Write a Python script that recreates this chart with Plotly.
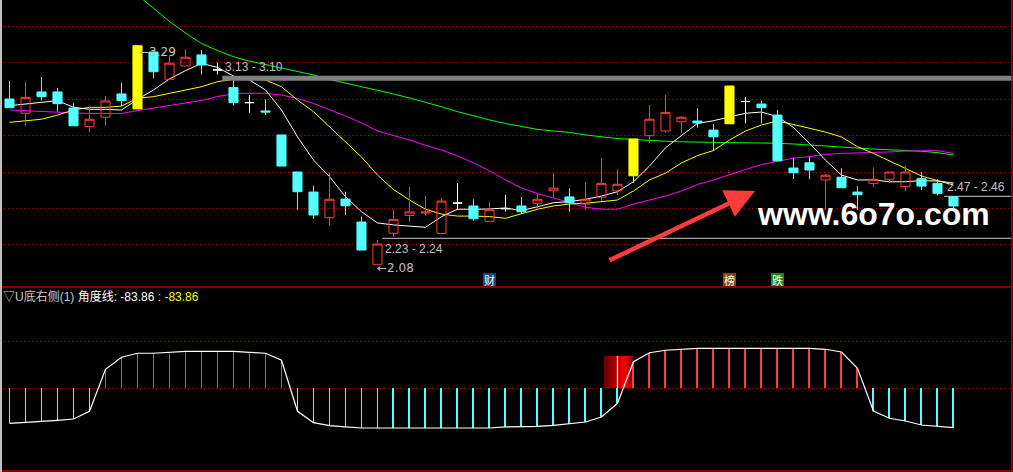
import plotly.graph_objects as go

# ---------------- data ----------------
N = 60
idx = list(range(N))

opens = [2.995, 2.916, 3.034, 3.034, 2.945, 2.842, 2.894, 3.023, 2.940, 3.255,
         3.104, 3.178, 3.239, 3.156, 3.058, 2.975, 2.929, 2.796, 2.591, 2.480,
         2.338, 2.441, 2.314, 2.080, 2.252, 2.351, 2.364, 2.251, 2.419, 2.403,
         2.318, 2.388, 2.403, 2.418, 2.487, 2.453, 2.414, 2.451, 2.487, 2.570,
         2.792, 2.818, 2.869, 2.873, 2.823, 2.858, 2.981, 2.967, 2.906, 2.613,
         2.642, 2.547, 2.562, 2.480, 2.528, 2.551, 2.510, 2.554, 2.528, 2.454]
highs = [3.095, 3.089, 3.117, 3.056, 2.971, 2.949, 3.012, 3.085, 3.290, 3.255,
         3.233, 3.272, 3.266, 3.196, 3.096, 3.017, 2.993, 2.796, 2.591, 2.515,
         2.587, 2.482, 2.344, 2.215, 2.386, 2.510, 2.458, 2.447, 2.530, 2.440,
         2.425, 2.464, 2.453, 2.473, 2.584, 2.501, 2.534, 2.668, 2.606, 2.774,
         2.962, 3.017, 2.901, 2.944, 2.857, 3.067, 3.006, 2.986, 2.934, 2.671,
         2.676, 2.580, 2.611, 2.513, 2.617, 2.591, 2.628, 2.591, 2.551, 2.454]
lows = [2.947, 2.847, 2.986, 2.925, 2.847, 2.811, 2.847, 2.955, 2.940, 3.110,
        3.104, 3.178, 3.131, 3.131, 2.958, 2.919, 2.906, 2.624, 2.381, 2.331,
        2.294, 2.353, 2.159, 2.080, 2.233, 2.316, 2.350, 2.251, 2.383, 2.321,
        2.318, 2.371, 2.358, 2.390, 2.451, 2.371, 2.381, 2.432, 2.464, 2.532,
        2.750, 2.808, 2.808, 2.836, 2.707, 2.858, 2.860, 2.860, 2.653, 2.552,
        2.551, 2.381, 2.504, 2.381, 2.506, 2.532, 2.484, 2.491, 2.462, 2.377]
closes = [2.947, 3.004, 3.008, 2.969, 2.847, 2.883, 2.984, 2.986, 3.290, 3.146,
          3.193, 3.226, 3.183, 3.156, 2.975, 2.975, 2.923, 2.624, 2.482, 2.353,
          2.440, 2.404, 2.159, 2.192, 2.329, 2.370, 2.370, 2.430, 2.419, 2.332,
          2.382, 2.388, 2.371, 2.440, 2.502, 2.421, 2.440, 2.528, 2.523, 2.774,
          2.883, 2.921, 2.894, 2.862, 2.786, 3.067, 2.981, 2.947, 2.653, 2.587,
          2.602, 2.573, 2.504, 2.465, 2.551, 2.591, 2.591, 2.513, 2.473, 2.403]
kinds = ["down", "up", "down", "down", "down", "up", "up", "down", "limit", "down",
         "up", "up", "down", "doji", "down", "doji", "down", "down", "down", "down",
         "up", "down", "down", "up", "up", "up", "up", "up", "doji", "down",
         "up", "doji", "down", "up", "up", "down", "up", "up", "up", "limit",
         "up", "up", "up", "down", "down", "limit", "doji", "down", "down", "down",
         "down", "up", "down", "down", "up", "up", "up", "down", "down", "down"]

ma5 = [2.958, 2.966, 2.975, 2.986, 2.949, 2.938, 2.938, 2.934, 2.993, 3.045,
       3.106, 3.152, 3.192, 3.170, 3.122, 3.100, 3.045, 2.934, 2.786, 2.657,
       2.565, 2.454, 2.371, 2.309, 2.298, 2.292, 2.285, 2.344, 2.385, 2.385,
       2.386, 2.392, 2.377, 2.399, 2.421, 2.427, 2.440, 2.458, 2.482, 2.537,
       2.624, 2.725, 2.790, 2.860, 2.875, 2.897, 2.916, 2.923, 2.897, 2.837,
       2.750, 2.657, 2.574, 2.547, 2.547, 2.537, 2.537, 2.543, 2.541, 2.530]
ma10 = [2.866, 2.873, 2.883, 2.906, 2.934, 2.949, 2.949, 2.956, 2.999, 3.008,
        3.027, 3.045, 3.063, 3.091, 3.104, 3.106, 3.100, 3.063, 2.989, 2.925,
        2.840, 2.754, 2.674, 2.574, 2.494, 2.436, 2.385, 2.358, 2.347, 2.347,
        2.344, 2.335, 2.362, 2.385, 2.403, 2.414, 2.418, 2.427, 2.436, 2.486,
        2.547, 2.585, 2.641, 2.682, 2.710, 2.768, 2.818, 2.851, 2.873, 2.854,
        2.834, 2.812, 2.785, 2.731, 2.694, 2.652, 2.608, 2.569, 2.543, 2.519]
ma20 = [2.934, 2.929, 2.926, 2.920, 2.918, 2.915, 2.914, 2.915, 2.931, 2.945,
        2.959, 2.973, 2.987, 3.009, 3.023, 3.027, 3.027, 3.017, 2.998, 2.970,
        2.937, 2.901, 2.862, 2.818, 2.793, 2.768, 2.738, 2.713, 2.680, 2.641,
        2.597, 2.547, 2.502, 2.472, 2.447, 2.422, 2.396, 2.385, 2.385, 2.414,
        2.436, 2.458, 2.486, 2.522, 2.547, 2.577, 2.605, 2.632, 2.652, 2.668,
        2.676, 2.688, 2.694, 2.696, 2.698, 2.702, 2.707, 2.709, 2.709, 2.694]
ma60 = [None] * 8 + [
        3.571, 3.499,
        3.424, 3.360, 3.302, 3.263, 3.229, 3.205, 3.186, 3.167, 3.150, 3.128,
        3.103, 3.084, 3.065, 3.045, 3.023, 3.001, 2.978, 2.952, 2.925, 2.901,
        2.879, 2.859, 2.842, 2.827, 2.818, 2.810, 2.796, 2.785, 2.776, 2.771,
        2.765, 2.761, 2.758, 2.755, 2.755, 2.754, 2.754, 2.753, 2.750, 2.746,
        2.740, 2.735, 2.728, 2.722, 2.718, 2.714, 2.711, 2.706, 2.698, 2.685]

angle = [-74.5, -71.7, -70.2, -68.1, -65.3, -48.9, 40.4, 66.0, 74.5, 74.5,
         77.2, 78.7, 78.7, 78.7, 78.7, 76.6, 74.5, 59.6, -48.9, -73.2,
         -79.6, -82.3, -84.5, -84.5, -84.5, -84.5, -84.5, -84.5, -84.5, -84.5,
         -84.5, -82.3, -82.3, -80.9, -78.7, -75.3, -71.7, -61.1, -31.9, 56.6,
         75.7, 80.9, 83.0, 85.1, 85.1, 85.1, 85.1, 85.1, 85.1, 85.1,
         85.1, 83.0, 77.2, 42.6, -48.3, -63.8, -69.6, -78.1, -80.2, -83.86]

grid_levels = [3.399, 3.197, 2.995, 2.793, 2.591, 2.389, 2.190]
angle_levels = [0, 100]

level_prices = [3.110, 2.224, 2.456]
level_start = [13.3, 23.3, 58.4]
level_texts = ["3.13 - 3.10", "2.23 - 2.24", "2.47 - 2.46"]

high_idx, high_text = 8, "←3.29"
low_idx, low_text = 23, "←2.08"

icon_idx = [30, 45, 48]
icon_text = ["财", "榜", "跌"]
icon_bg = ["#15427a", "#8a4810", "#138c13"]

signal_idx = 38
signal_height = 69
signal_span = (-0.84, 0.97)

title_name = "▽U底右侧(1)"
title_line = "角度线: -83.86"
title_value = ": -83.86"
watermark = "www.6o7o.com"

# ---------------- styling ----------------
RED = "#ff3c3c"
CYAN = "#54ffff"
GRID = "#b00000"
X_MIN, X_MAX = -0.594, 62.72
P_MIN, P_MAX = 1.960, 3.543
A_MIN, A_MAX = -178.1, 215.5
FONT = "Liberation Sans, Noto Sans CJK SC, sans-serif"

fig = go.Figure()

# moving averages (main upper axes, underneath candles)
for vals, col in [(ma60, "#00ff00"), (ma20, "#ff00ff"), (ma10, "#ffff00"), (ma5, "#ffffff")]:
    fig.add_trace(go.Scatter(x=idx, y=vals, mode="lines", line=dict(color=col, width=1),
                             hoverinfo="skip", showlegend=False, xaxis="x", yaxis="y"))

# horizontal price levels
for p, s, w, c in zip(level_prices, level_start, [5, 1.3, 1.3], ["#808080", "#a0a0a0", "#a0a0a0"]):
    fig.add_trace(go.Scatter(x=[s, X_MAX], y=[p, p], mode="lines", line=dict(color=c, width=w),
                             hoverinfo="skip", showlegend=False, xaxis="x", yaxis="y"))

# candles (overlay axis so they sit above the MA lines)
styles = {"up": (RED, "rgba(0,0,0,0)"), "down": (CYAN, CYAN),
          "limit": ("#ffff00", "#ffff00"), "doji": ("#ffffff", "#ffffff")}
for k, (lc, fc) in styles.items():
    sel = [i for i in idx if kinds[i] == k]
    st = dict(line=dict(color=lc, width=1), fillcolor=fc)
    fig.add_trace(go.Candlestick(
        x=sel, open=[opens[i] for i in sel], high=[highs[i] for i in sel],
        low=[lows[i] for i in sel], close=[closes[i] for i in sel],
        increasing=st, decreasing=st, whiskerwidth=0, hoverinfo="skip",
        showlegend=False, xaxis="x", yaxis="y3"))

# ---------------- lower panel ----------------
ns = 18
w_total = signal_span[1] - signal_span[0]
sx, scol = [], []
for j in range(ns):
    t = (j + 0.5) / ns
    sx.append(signal_idx + signal_span[0] + w_total * t)
    if t <= 0.72:
        r = 105 + 150 * (t / 0.72) ** 1.3
    else:
        r = 255 - 135 * ((t - 0.72) / 0.28)
    scol.append("rgb(%d,0,0)" % int(r))
fig.add_trace(go.Bar(x=sx, y=[signal_height] * ns, width=[w_total / ns * 1.02] * ns,
                     marker=dict(color=scol, line=dict(width=0)), hoverinfo="skip",
                     showlegend=False, xaxis="x2", yaxis="y2"))

# sticks from zero to the indicator value
stick_colors = [RED if v > 0 else CYAN for v in angle]
fig.add_trace(go.Bar(x=idx, y=angle, base=0, width=[1 / 16] * N,
                     marker=dict(color=stick_colors, line=dict(width=0)), hoverinfo="skip",
                     showlegend=False, xaxis="x2", yaxis="y2"))
fig.add_trace(go.Scatter(x=[signal_idx, signal_idx], y=[0, signal_height], mode="lines",
                         line=dict(color="#ffffff", width=1.2), hoverinfo="skip",
                         showlegend=False, xaxis="x2", yaxis="y2"))
fig.add_trace(go.Scatter(x=idx, y=angle, mode="lines", line=dict(color="#ffffff", width=1.2),
                         hoverinfo="skip", showlegend=False, xaxis="x2", yaxis="y2"))

# ---------------- annotations ----------------
ann = []
lab_font = dict(family=FONT, size=12, color="#c0c0c0")
for p, s, t, ys in zip(level_prices, level_start, level_texts, [11, -11, 9]):
    ann.append(dict(x=s, y=p, xref="x", yref="y", text=t, showarrow=False, xanchor="left",
                    yanchor="middle", xshift=3, yshift=ys, font=lab_font, borderpad=0, borderwidth=0))
ann.append(dict(x=high_idx, y=highs[high_idx], xref="x", yref="y", text=high_text, showarrow=False,
                xanchor="left", yanchor="middle", xshift=1, yshift=-6,
                font=dict(family="DejaVu Sans, " + FONT, size=12, color="#c0c0c0"),
                borderpad=0, borderwidth=0))
ann.append(dict(x=low_idx, y=lows[low_idx], xref="x", yref="y", text=low_text, showarrow=False,
                xanchor="left", yanchor="middle", xshift=-1, yshift=-4,
                font=dict(family="DejaVu Sans, " + FONT, size=12, color="#c0c0c0"),
                borderpad=0, borderwidth=0))
for i, t, bg in zip(icon_idx, icon_text, icon_bg):
    ann.append(dict(x=i, y=1 - 279.5 / 472, xref="x", yref="paper", text=t, showarrow=False,
                    xanchor="center", yanchor="middle", width=13, height=13, bgcolor=bg,
                    borderpad=0, borderwidth=0,
                    font=dict(family="Noto Sans CJK SC", size=11, color="#ffffff")))
ann.append(dict(x=3 / 1013, y=1 - 296 / 472, xref="paper", yref="paper", showarrow=False,
                xanchor="left", yanchor="middle", borderpad=0, borderwidth=0,
                text=("<span style='color:#c8c8c8'>%s</span> %s <span style='color:#ffff00'>%s</span>"
                      % (title_name, title_line, title_value)),
                font=dict(family=FONT, size=12, color="#ffffff")))
ann.append(dict(x=757 / 1013, y=1 - 214 / 472, xref="paper", yref="paper", text=watermark,
                showarrow=False, xanchor="left", yanchor="middle", borderpad=0, borderwidth=0,
                font=dict(family="Liberation Sans", size=32, color="#ffffff", weight="bold")))
ann.append(dict(x=755 / 1013, y=1 - 191 / 472, xref="paper", yref="paper", text="",
                showarrow=True, ax=-147, ay=70, arrowhead=2, arrowsize=1.3, arrowwidth=4.5,
                arrowcolor=RED))

shapes = [
    dict(type="line", xref="paper", yref="paper", x0=0, x1=1, y0=1 - 287 / 472, y1=1 - 287 / 472,
         line=dict(color="#b00000", width=1.5)),
    dict(type="line", xref="paper", yref="paper", x0=0, x1=1, y0=1 - 471 / 472, y1=1 - 471 / 472,
         line=dict(color="#b00000", width=1.5)),
    dict(type="line", xref="paper", yref="paper", x0=1012 / 1013, x1=1012 / 1013, y0=0, y1=1,
         line=dict(color="#b00000", width=1.5)),
    dict(type="line", xref="paper", yref="paper", x0=1 / 1013, x1=1 / 1013, y0=0, y1=1,
         line=dict(color="#c0c0c0", width=2)),
]

axis_common = dict(showticklabels=False, zeroline=False, showline=False, ticks="")
fig.update_layout(
    width=1013, height=472, autosize=False,
    margin=dict(l=0, r=0, t=0, b=0, pad=0),
    paper_bgcolor="#000000", plot_bgcolor="#000000",
    showlegend=False, boxgap=0.19, bargap=0, barmode="overlay",
    xaxis=dict(domain=[0, 1], range=[X_MIN, X_MAX], showgrid=False, anchor="y",
               rangeslider=dict(visible=False), **axis_common),
    yaxis=dict(domain=[1 - 286 / 472, 1], range=[P_MIN, P_MAX], tickmode="array",
               tickvals=grid_levels, showgrid=True, gridcolor=GRID, griddash="1px,3px",
               gridwidth=1, anchor="x", **axis_common),
    yaxis3=dict(overlaying="y", range=[P_MIN, P_MAX], showgrid=False, visible=False,
                anchor="x"),
    xaxis2=dict(domain=[0, 1], range=[X_MIN, X_MAX], showgrid=False, anchor="y2",
                **axis_common),
    yaxis2=dict(domain=[0, 1 - 287 / 472], range=[A_MIN, A_MAX], tickmode="array",
                tickvals=angle_levels, showgrid=True, gridcolor=GRID, griddash="1px,3px",
                gridwidth=1, anchor="x2", **axis_common),
    annotations=ann, shapes=shapes,
)

fig.write_html("out.html", config={"displayModeBar": False},
               post_script="document.body.style.margin='0';document.body.style.background='#000';")
